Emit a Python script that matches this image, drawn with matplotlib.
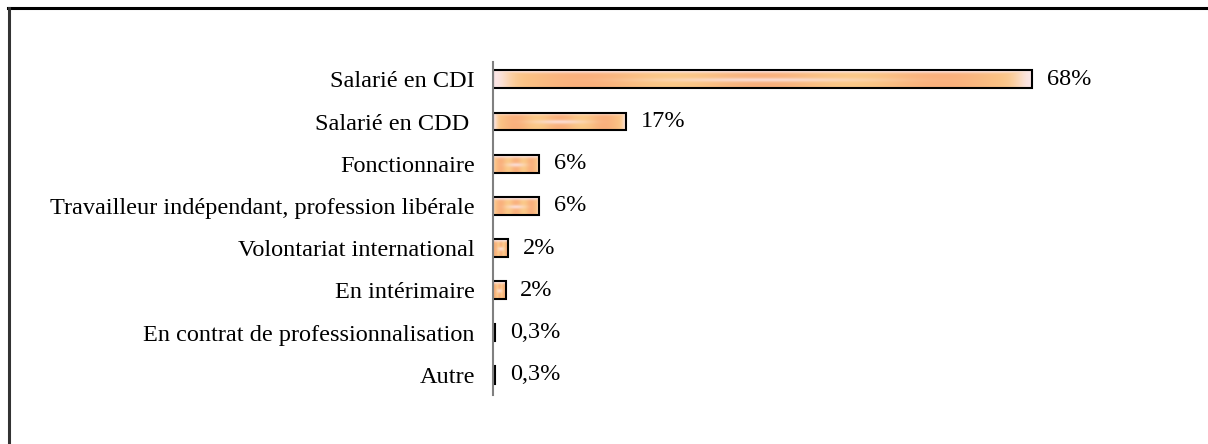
import numpy as np
import matplotlib.pyplot as plt
from matplotlib.lines import Line2D

categories = ["Salarié en CDI", "Salarié en CDD ", "Fonctionnaire",
              "Travailleur indépendant, profession libérale",
              "Volontariat international", "En intérimaire",
              "En contrat de professionnalisation", "Autre"]
values = [68, 16.8, 5.8, 5.8, 1.9, 1.6, 0.3, 0.3]
value_labels = ["68%", "17%", "6%", "6%", "2%", "2%", "0,3%", "0,3%"]

plt.rcParams['font.family'] = ['Liberation Serif', 'DejaVu Serif']

fig = plt.figure(figsize=(12.08, 4.44), dpi=100)
ax = fig.add_axes([493 / 1208, 49 / 444, 657 / 1208, 333 / 444])

# gradient texture for the bars
orange = np.array([249, 176, 124]) / 255
peach = np.array([251, 200, 135]) / 255
pink = np.array([252, 230, 230]) / 255


def bar_texture(n=200, m=20):
    x = np.linspace(0, 1, n)[None, :]
    y = np.linspace(0, 1, m)[:, None]
    base = orange + (peach - orange) * (0.5 + 0.5 * np.cos(x * 6 * np.pi))[..., None]
    light = np.maximum(np.exp(-((y - 0.02) / 0.12) ** 2),
                       0.8 * np.exp(-((y - 0.55) / 0.12) ** 2) * np.exp(-((x - 0.5) / 0.2) ** 2))
    light = np.maximum(light, np.exp(-(x / 0.03) ** 2))
    light = np.maximum(light, np.exp(-((1 - x) / 0.03) ** 2))
    img = base * (1 - light[..., None]) + pink * light[..., None]
    return np.clip(img, 0, 1)


h = 0.42
ys = np.arange(len(categories))
tex = bar_texture()
for yy, v in zip(ys, values):
    ax.imshow(tex, extent=(0, v, yy + h / 2, yy - h / 2), aspect='auto',
              interpolation='bilinear', zorder=1)
ax.barh(ys, values, height=h, facecolor='none', edgecolor='black', linewidth=1.5, zorder=2)

for yy, v, lab in zip(ys, values, value_labels):
    ax.annotate(lab, (v, yy), xytext=(10.5, 0), textcoords='offset points',
                va='center', ha='left', fontsize=17.5)

ax.set_yticks(ys)
ax.set_yticklabels(categories, fontsize=17.5)
ax.tick_params(axis='y', length=0, pad=13)
ax.set_xticks([])
ax.set_xlim(0, 657 / 7.93)
ax.set_ylim(len(categories) - 0.52, -0.41)
for s in ['top', 'right', 'bottom']:
    ax.spines[s].set_visible(False)
ax.spines['left'].set_color('#808080')
ax.spines['left'].set_linewidth(1.5)

# outer frame (top and left only)
fig.add_artist(Line2D([8 / 1208, 1], [1 - 8 / 444, 1 - 8 / 444], color='black', lw=2.2,
                      transform=fig.transFigure))
fig.add_artist(Line2D([9 / 1208, 9 / 1208], [0, 1 - 8 / 444], color='#333333', lw=2.2,
                      transform=fig.transFigure))

fig.savefig("out.png", dpi=100)
